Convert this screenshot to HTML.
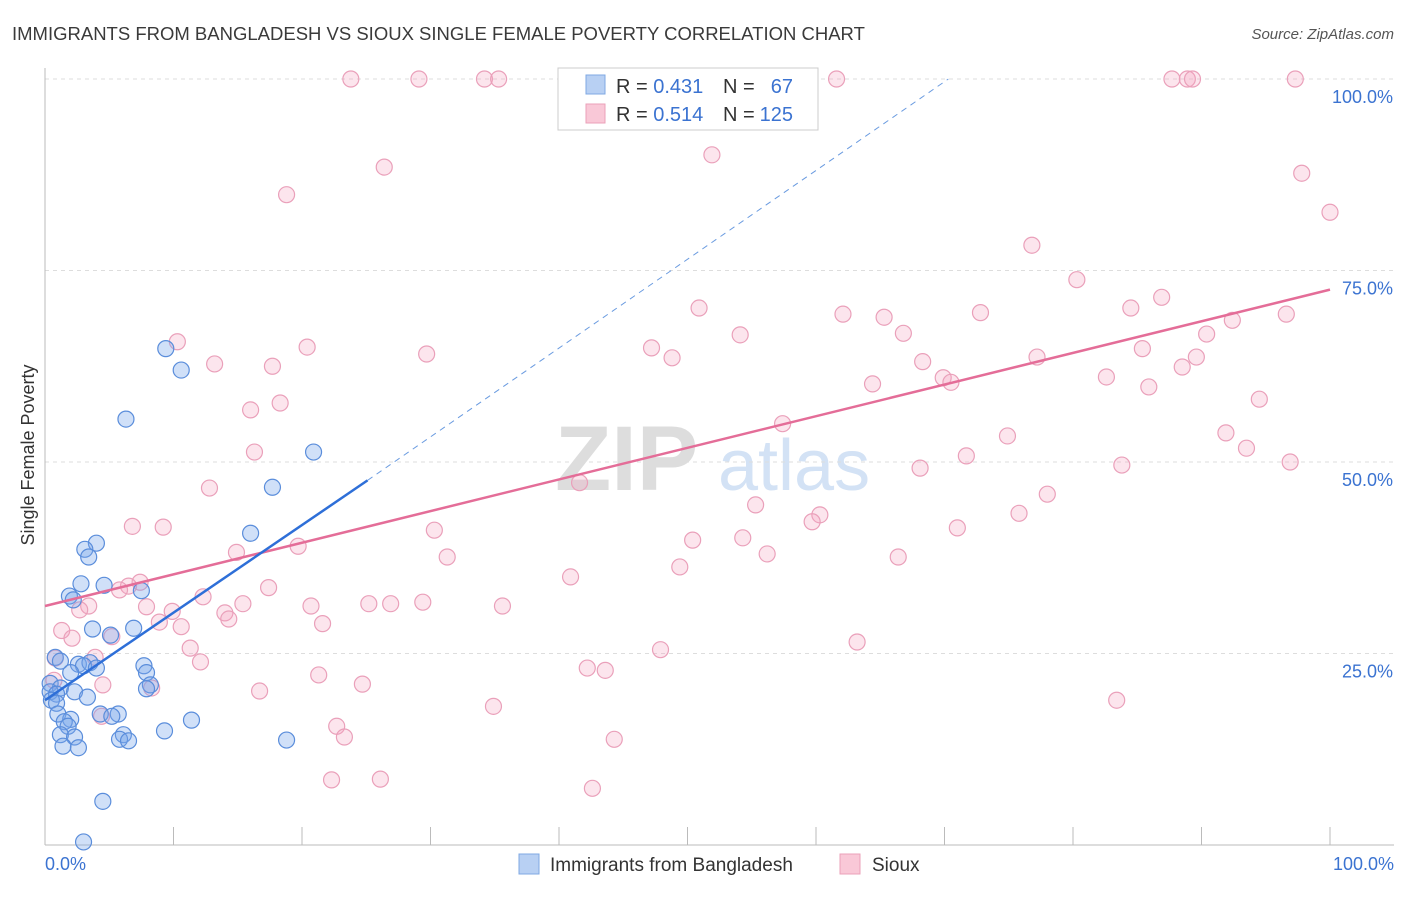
<!DOCTYPE html>
<html><head><meta charset="utf-8"><style>
body{margin:0;background:#fff;font-family:"Liberation Sans",sans-serif;}
svg text{font-family:"Liberation Sans",sans-serif;}
</style></head><body>
<svg id="chart" width="1406" height="892" xmlns="http://www.w3.org/2000/svg">
<text x="12" y="40" font-size="18.5" fill="#3a3a3a">IMMIGRANTS FROM BANGLADESH VS SIOUX SINGLE FEMALE POVERTY CORRELATION CHART</text>
<text x="1394" y="39" font-size="15" fill="#555" text-anchor="end" font-style="italic">Source: ZipAtlas.com</text>
<text x="555" y="490" font-size="92" fill="#ddd" font-family="Liberation Serif" font-weight="bold">ZIP</text>
<text x="718" y="490" font-size="72" fill="#d3e2f5">atlas</text>
<text transform="translate(34,455) rotate(-90)" font-size="18" fill="#333" text-anchor="middle">Single Female Poverty</text>
<g id="grid"></g><g id="pts"></g><g id="lines"></g>
<g>
<rect x="558" y="68" width="260" height="62" fill="#fff" stroke="#ccc"/>
<rect x="586" y="75" width="19" height="19" fill="#b8d0f3" stroke="#7fa8e3"/>
<rect x="586" y="104" width="19" height="19" fill="#f9c8d7" stroke="#eba1b9"/>
<text x="616" y="93" font-size="20" fill="#333">R = <tspan fill="#3b73d1">0.431</tspan></text>
<text x="723" y="93" font-size="20" fill="#333">N =</text>
<text x="793" y="93" font-size="20" fill="#3b73d1" text-anchor="end">67</text>
<text x="616" y="121" font-size="20" fill="#333">R = <tspan fill="#3b73d1">0.514</tspan></text>
<text x="723" y="121" font-size="20" fill="#333">N =</text>
<text x="793" y="121" font-size="20" fill="#3b73d1" text-anchor="end">125</text>
</g>
<g>
<rect x="519" y="854" width="20" height="20" fill="#b8d0f3" stroke="#7fa8e3"/>
<text x="550" y="871" font-size="19" fill="#333">Immigrants from Bangladesh</text>
<rect x="840" y="854" width="20" height="20" fill="#f9c8d7" stroke="#eba1b9"/>
<text x="872" y="871" font-size="19" fill="#333">Sioux</text>
</g>
</svg>
<script>
const yTicks=[25,50,75,100];
const yTickLabels=["25.0%","50.0%","75.0%","100.0%"];
const blueX=[4.0,3.1,3.4,9.4,10.6,6.3,20.9,17.7,16.0,2.8,4.6,7.5,1.9,2.2,3.7,6.9,5.1,0.8,1.2,2.6,3.5,3.0,4.0,7.7,7.9,2.0,0.4,1.2,0.4,0.9,2.3,3.3,8.2,7.9,0.5,0.9,1.0,2.0,1.5,1.8,4.3,5.7,5.2,11.4,9.3,1.2,2.3,6.1,5.8,6.5,18.8,1.4,2.6,4.5,3.0];
const blueY=[39.4,38.6,37.6,64.8,62.0,55.6,51.3,46.7,40.7,34.1,33.9,33.2,32.5,32.0,28.2,28.3,27.4,24.5,24.0,23.6,23.8,23.4,23.1,23.4,22.5,22.5,21.1,20.5,20.0,19.7,20.0,19.3,20.9,20.4,18.9,18.5,17.1,16.4,16.1,15.5,17.1,17.1,16.8,16.3,14.9,14.4,14.1,14.4,13.8,13.6,13.7,12.9,12.7,5.7,0.4];
const pinkX=[23.8,29.1,34.2,35.3,61.6,87.7,88.9,89.3,97.3,26.4,18.8,51.9,97.8,100,76.8,80.3,86.9,84.5,96.6,92.4,90.4,72.8,65.3,62.1,50.9,54.1,66.8,47.2,48.8,85.4,89.6,77.2,68.3,88.5,64.4,69.9,70.5,82.6,85.9,94.5,10.3,13.2,17.7,20.4,29.7,16.0,18.3,57.4,74.9,91.9,93.5,71.7,96.9,83.8,16.3,68.1,41.6,12.8,78.0,55.3,60.3,75.8,59.7,71.0,6.8,9.2,30.3,54.3,50.4,19.7,14.9,31.3,56.2,66.4,49.4,40.9,7.4,6.5,5.8,17.4,12.3,15.4,3.4,2.7,7.9,9.9,20.7,25.2,26.9,29.4,35.6,14.0,14.3,8.9,10.6,21.6,1.3,2.1,5.2,11.3,63.2,47.9,12.1,0.8,3.9,42.2,43.6,21.3,0.7,4.5,24.7,8.3,16.7,34.9,83.4,4.4,22.7,23.3,44.3,22.3,26.1,42.6];
const pinkY=[100,100,100,100,100,100,100,100,100,88.5,84.9,90.1,87.7,82.6,78.3,73.8,71.5,70.1,69.3,68.5,66.7,69.5,68.9,69.3,70.1,66.6,66.8,64.9,63.6,64.8,63.7,63.7,63.1,62.4,60.2,61.0,60.4,61.1,59.8,58.2,65.7,62.8,62.5,65.0,64.1,56.8,57.7,55.0,53.4,53.8,51.8,50.8,50.0,49.6,51.3,49.2,47.3,46.6,45.8,44.4,43.1,43.3,42.2,41.4,41.6,41.5,41.1,40.1,39.8,39.0,38.2,37.6,38.0,37.6,36.3,35.0,34.3,33.8,33.3,33.6,32.4,31.5,31.2,30.7,31.1,30.5,31.2,31.5,31.5,31.7,31.2,30.3,29.5,29.1,28.5,28.9,28.0,27.0,27.2,25.7,26.5,25.5,23.9,24.4,24.5,23.1,22.8,22.2,21.5,20.9,21.0,20.5,20.1,18.1,18.9,16.8,15.5,14.1,13.8,8.5,8.6,7.4];
const blueLine=[[0,18.9],[25.1,47.6]];
const blueDash=[[25.1,47.6],[70.3,100]];
const pinkLine=[[0,31.2],[100,72.5]];
const NS="http://www.w3.org/2000/svg";
const X0=45,X1=1330,Y0=845,Y100=79;
const sx=v=>X0+v/100*(X1-X0), sy=v=>Y0-v/100*(Y0-Y100);
function mk(tag,attrs,parent){const e=document.createElementNS(NS,tag);for(const k in attrs)e.setAttribute(k,attrs[k]);parent.appendChild(e);return e;}
const grid=document.getElementById('grid');
yTicks.forEach((t,i)=>{
 const l=mk('line',{x1:X0,x2:1394,y1:sy(t),y2:sy(t),stroke:'#ddd','stroke-dasharray':'4,4'},grid);
 
 
 const tx=mk('text',{x:1393,y:sy(t)+24,'font-size':18,fill:'#3b73d1','text-anchor':'end'},grid);
 tx.textContent=yTickLabels[i];
 
 
});
const ax=mk('line',{x1:X0,x2:X0,y1:68,y2:Y0,stroke:'#bbb'},grid);


const bx=mk('line',{x1:X0,x2:1394,y1:Y0,y2:Y0,stroke:'#bbb'},grid);


for(let i=0;i<=10;i++){const t=mk('line',{x1:sx(i*10),x2:sx(i*10),y1:827,y2:Y0,stroke:'#bbb'},grid);
 
 }
const xl=mk('text',{x:45,y:870,'font-size':18,fill:'#3b73d1'},grid);xl.textContent='0.0%';


const xr=mk('text',{x:1394,y:870,'font-size':18,fill:'#3b73d1','text-anchor':'end'},grid);xr.textContent='100.0%';


const pts=document.getElementById('pts');
pinkX.forEach((x,i)=>{const c=mk('circle',{cx:sx(x),cy:sy(pinkY[i]),r:8,fill:'rgba(244,160,190,0.28)',stroke:'#eaa0ba','stroke-width':1.2},pts);
 
 });
blueX.forEach((x,i)=>{const c=mk('circle',{cx:sx(x),cy:sy(blueY[i]),r:8,fill:'rgba(120,165,235,0.35)',stroke:'#5a8ddb','stroke-width':1.2},pts);
 
 });
const lines=document.getElementById('lines');
const pl=mk('line',{x1:sx(pinkLine[0][0]),y1:sy(pinkLine[0][1]),x2:sx(pinkLine[1][0]),y2:sy(pinkLine[1][1]),stroke:'#e46d98','stroke-width':2.5},lines);


const bd=mk('line',{x1:sx(blueDash[0][0]),y1:sy(blueDash[0][1]),x2:sx(blueDash[1][0]),y2:sy(blueDash[1][1]),stroke:'#6a9be0','stroke-width':1,'stroke-dasharray':'6,5'},lines);


const bl=mk('line',{x1:sx(blueLine[0][0]),y1:sy(blueLine[0][1]),x2:sx(blueLine[1][0]),y2:sy(blueLine[1][1]),stroke:'#2e6fd8','stroke-width':2.5},lines);


</script>
</body></html>
